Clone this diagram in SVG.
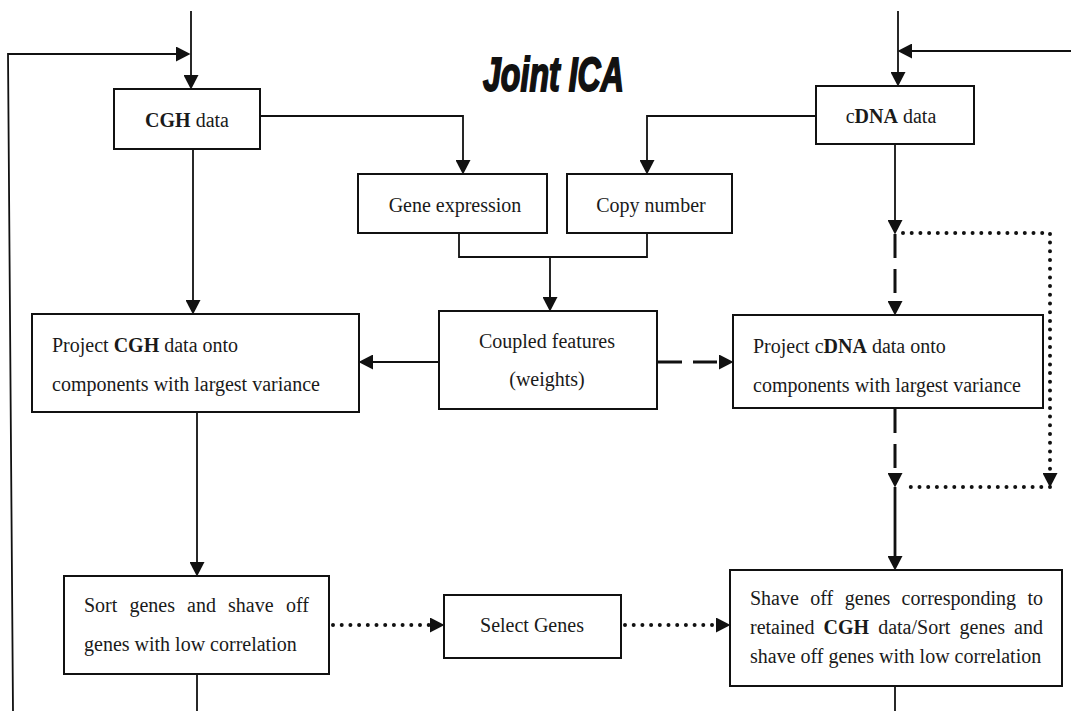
<svg xmlns="http://www.w3.org/2000/svg" width="1071" height="711" viewBox="0 0 1071 711">
<style>
.box{fill:#fff;stroke:#111;stroke-width:2}
.t{font-family:"Liberation Serif","Times New Roman",serif;font-size:20px;fill:#1a1a1a}
.c{text-anchor:middle}
.e{text-anchor:end}
.b{font-weight:bold}
.ln{fill:none;stroke:#111;stroke-width:1.8}
.bold{fill:none;stroke:#111;stroke-width:2.8}
.dash{fill:none;stroke:#111;stroke-width:3;stroke-dasharray:24 11}
.dot{fill:none;stroke:#111;stroke-width:4;stroke-linecap:round;stroke-dasharray:0 8.7}
</style>
<defs>
<marker id="ah" markerUnits="userSpaceOnUse" markerWidth="15" markerHeight="15" refX="0" refY="7.5" orient="auto">
<path d="M0,0 L14.5,7.5 L0,15 z" fill="#111"/>
</marker>
</defs>
<rect width="1071" height="711" fill="#fff"/>

<text x="483" y="91" font-family="Liberation Sans, Arial, sans-serif" font-weight="bold" font-style="italic" font-size="49" textLength="141" lengthAdjust="spacingAndGlyphs" fill="#111" stroke="#111" stroke-width="2">Joint ICA</text>

<g id="connectors">
<path class="ln" d="M191,11 V75" marker-end="url(#ah)"/>
<path class="ln" d="M13,711 L8,54 H176" marker-end="url(#ah)"/>
<path class="ln" d="M260,116 H463 V160" marker-end="url(#ah)"/>
<path class="ln" d="M193,149 V300" marker-end="url(#ah)"/>
<path class="ln" d="M898,11 V72" marker-end="url(#ah)"/>
<path class="ln" d="M1071,51 H912" marker-end="url(#ah)"/>
<path class="ln" d="M816,116 H647 V160" marker-end="url(#ah)"/>
<path class="ln" d="M895,144 V220" marker-end="url(#ah)"/>
<path class="ln" d="M459,233 V257 H647 V233 M550,257 V297"/>
<path class="ln" d="M550,290 V297" marker-end="url(#ah)"/>
<path class="ln" d="M439,362 H373" marker-end="url(#ah)"/>
<path class="dash" d="M658,362 H719" marker-end="url(#ah)"/>
<path class="dash" d="M895,234 V301" marker-end="url(#ah)"/>
<path class="dot" d="M903,233 H1050 V473" marker-end="url(#ah)"/>
<path class="dot" d="M1050,487 H903"/>
<path class="dash" d="M895,409 V473" marker-end="url(#ah)"/>
<path class="bold" d="M895,487 V556" marker-end="url(#ah)"/>
<path class="ln" d="M197,412 V562" marker-end="url(#ah)"/>
<path class="ln" d="M197,674 V711"/>
<path class="dot" d="M333,625 H430" marker-end="url(#ah)"/>
<path class="dot" d="M625,625 H716" marker-end="url(#ah)"/>
<path class="ln" d="M895,686 V711"/>
</g>

<g id="cgh-data">
<rect class="box" x="114" y="89" width="146" height="60"/>
<text class="t c" x="187" y="127"><tspan class="b">CGH</tspan> data</text>
</g>

<g id="cdna-data">
<rect class="box" x="816" y="86" width="158" height="58"/>
<text class="t c" x="891" y="123">c<tspan class="b">DNA</tspan> data</text>
</g>

<g id="gene-expression">
<rect class="box" x="358" y="174" width="189" height="59"/>
<text class="t c" x="455" y="212">Gene expression</text>
</g>

<g id="copy-number">
<rect class="box" x="567" y="174" width="165" height="59"/>
<text class="t c" x="651" y="212">Copy number</text>
</g>

<g id="coupled-features">
<rect class="box" x="439" y="311" width="218" height="98"/>
<text class="t c" x="547" y="348">Coupled features</text>
<text class="t c" x="547" y="386">(weights)</text>
</g>

<g id="project-cgh">
<rect class="box" x="32" y="314" width="327" height="98"/>
<text class="t" x="52" y="352">Project <tspan class="b">CGH</tspan> data onto</text>
<text class="t" x="52" y="391">components with largest variance</text>
</g>

<g id="project-cdna">
<rect class="box" x="733" y="315" width="310" height="93"/>
<text class="t" x="753" y="353">Project c<tspan class="b">DNA</tspan> data onto</text>
<text class="t" x="753" y="392">components with largest variance</text>
</g>

<g id="sort-genes">
<rect class="box" x="64" y="576" width="265" height="98"/>
<text class="t" y="612"><tspan x="84">Sort</tspan><tspan x="129.4">genes</tspan><tspan x="187">and</tspan><tspan x="228">shave</tspan><tspan class="e" x="309">off</tspan></text>
<text class="t" x="84" y="651">genes with low correlation</text>
</g>

<g id="select-genes">
<rect class="box" x="444" y="595" width="177" height="63"/>
<text class="t c" x="532" y="632">Select Genes</text>
</g>

<g id="shave-off">
<rect class="box" x="730" y="570" width="332" height="116"/>
<text class="t" y="605"><tspan x="750">Shave</tspan><tspan x="810.2">off</tspan><tspan x="844.8">genes</tspan><tspan x="901.6">corresponding</tspan><tspan class="e" x="1043">to</tspan></text>
<text class="t" y="634"><tspan x="750">retained</tspan><tspan class="b" x="823.5">CGH</tspan><tspan x="878.2">data/Sort</tspan><tspan x="959.5">genes</tspan><tspan class="e" x="1043">and</tspan></text>
<text class="t" x="750" y="663">shave off genes with low correlation</text>
</g>
</svg>
